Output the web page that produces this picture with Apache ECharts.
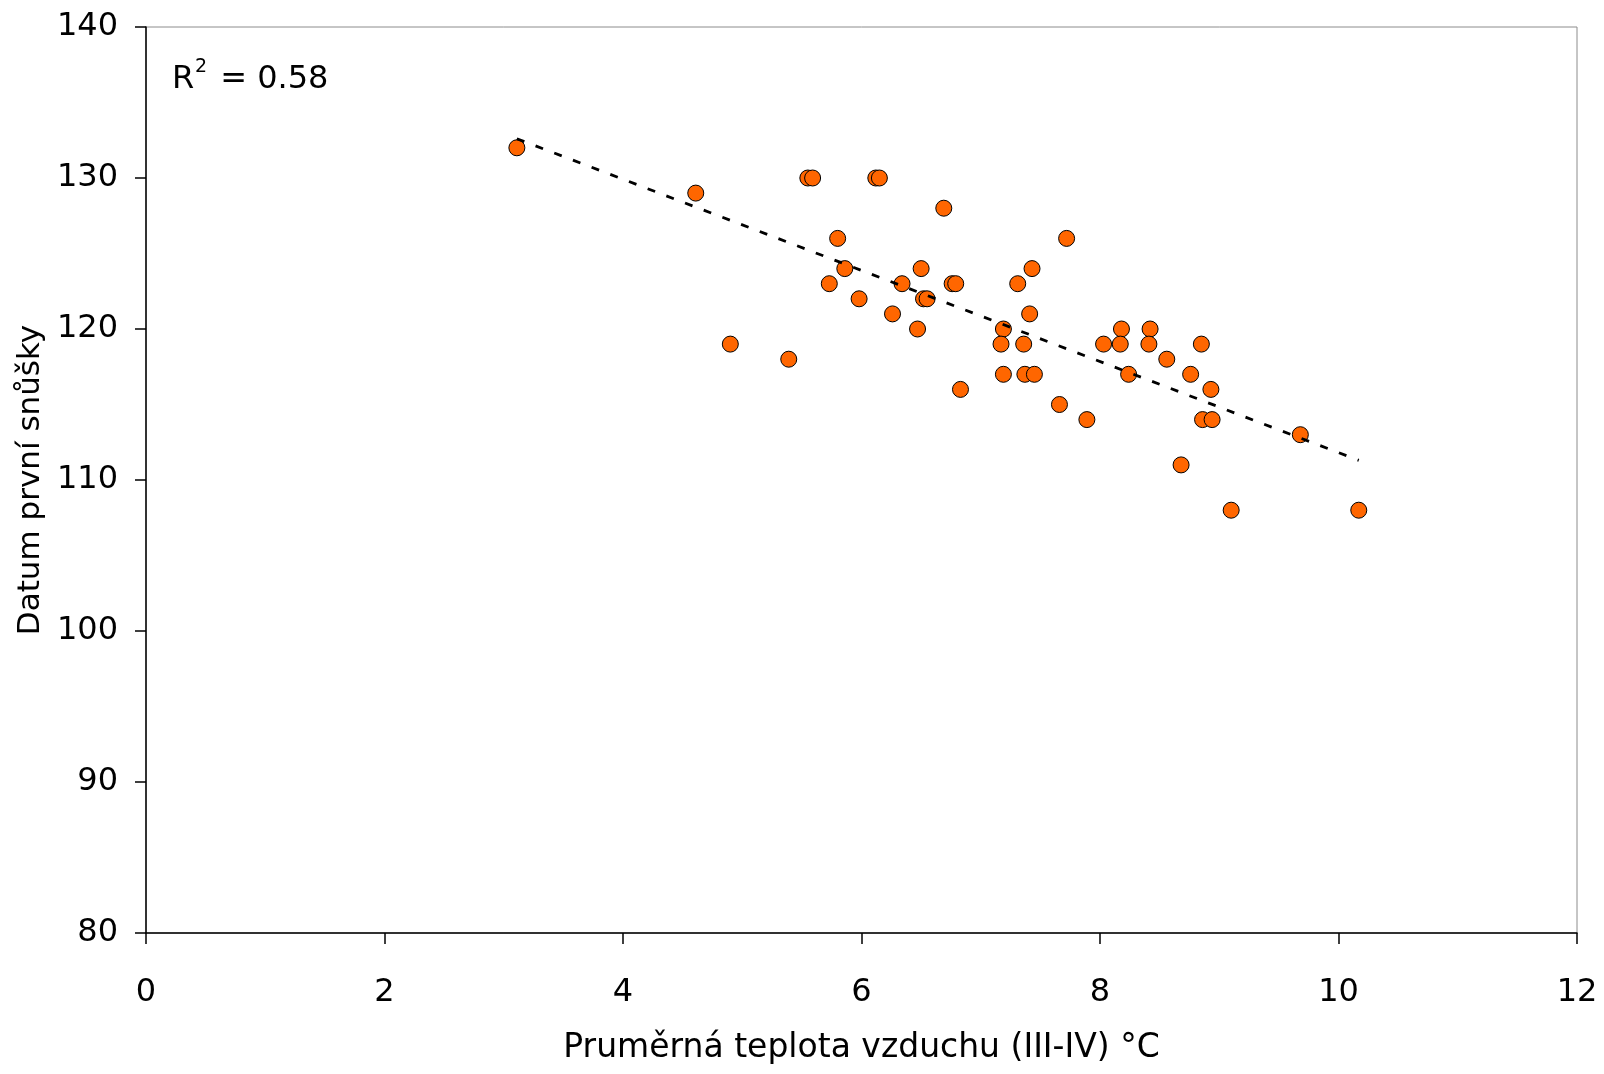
<!DOCTYPE html>
<html>
<head>
<meta charset="utf-8">
<script src="https://cdn.jsdelivr.net/npm/echarts@6/dist/echarts.min.js"></script>
<style>html,body{margin:0;padding:0;background:#fff}#c{width:1604px;height:1074px}</style>
</head>
<body>
<div id="c"></div>
<script>
const temperature = [3.11,4.61,5.55,5.59,6.12,6.15,6.69,5.80,7.72,5.86,6.50,7.43,5.73,6.34,6.76,6.79,7.31,5.98,6.52,6.55,6.26,7.41,6.47,7.19,8.18,8.42,4.90,7.17,7.36,8.03,8.17,8.41,8.85,5.39,8.56,7.19,7.37,7.45,8.24,8.76,6.83,8.93,7.66,7.89,8.86,8.94,9.68,8.68,9.10,10.17];
const layingDate = [132,129,130,130,130,130,128,126,126,124,124,124,123,123,123,123,123,122,122,122,121,121,120,120,120,120,119,119,119,119,119,119,119,118,118,117,117,117,117,117,116,116,115,114,114,114,113,111,108,108];
const trendX = [3.11, 10.17];
const trendY = [132.6, 111.3];
const xTicks = [0,2,4,6,8,10,12];
const yTicks = [80,90,100,110,120,130,140];
const r2Text = '0.58';

const font = 'DejaVu Sans';
const chart = echarts.init(document.getElementById('c'));
chart.setOption({
  animation: false,
  backgroundColor: '#fff',
  grid: {left: 146, right: 27, top: 27, bottom: 141, show: true, borderColor: '#8c8c8c', borderWidth: 1},
  xAxis: {
    type: 'value', min: xTicks[0], max: xTicks[xTicks.length-1], interval: 2,
    name: 'Pruměrná teplota vzduchu (III-IV) °C', nameLocation: 'middle', nameGap: 99,
    nameTextStyle: {fontFamily: font, fontSize: 33, color: '#000'},
    axisLine: {show: true, onZero: false, lineStyle: {color: '#000', width: 1.5}},
    axisTick: {show: true, length: 11, lineStyle: {color: '#000', width: 1.5}},
    axisLabel: {fontFamily: font, fontSize: 32, color: '#000', margin: 44},
    splitLine: {show: false}
  },
  yAxis: {
    type: 'value', min: yTicks[0], max: yTicks[yTicks.length-1], interval: 10,
    name: 'Datum první snůšky', nameLocation: 'middle', nameGap: 94,
    nameTextStyle: {fontFamily: font, fontSize: 31, color: '#000'},
    axisLine: {show: true, onZero: false, lineStyle: {color: '#000', width: 1.5}},
    axisTick: {show: true, length: 11, lineStyle: {color: '#000', width: 1.5}},
    axisLabel: {fontFamily: font, fontSize: 32, color: '#000', margin: 28},
    splitLine: {show: false}
  },
  graphic: [
    {type: 'text', left: 172, top: 64, style: {text: 'R', fontFamily: font, fontSize: 32, fill: '#000'}},
    {type: 'text', left: 195, top: 58, style: {text: '2', fontFamily: font, fontSize: 19, fill: '#000'}},
    {type: 'text', left: 210, top: 64, style: {text: ' = ' + r2Text, fontFamily: font, fontSize: 32, fill: '#000'}}
  ],
  series: [
    {
      type: 'scatter',
      data: temperature.map((x, i) => [x, layingDate[i]]),
      symbol: 'circle', symbolSize: 16,
      itemStyle: {color: '#ff6600', borderColor: '#000', borderWidth: 1, opacity: 1},
      z: 2
    },
    {
      type: 'line',
      data: trendX.map((x, i) => [x, trendY[i]]),
      showSymbol: false, symbol: 'none',
      lineStyle: {color: '#000', width: 2.8, type: [8, 12]},
      z: 3
    }
  ]
});
</script>
</body>
</html>
